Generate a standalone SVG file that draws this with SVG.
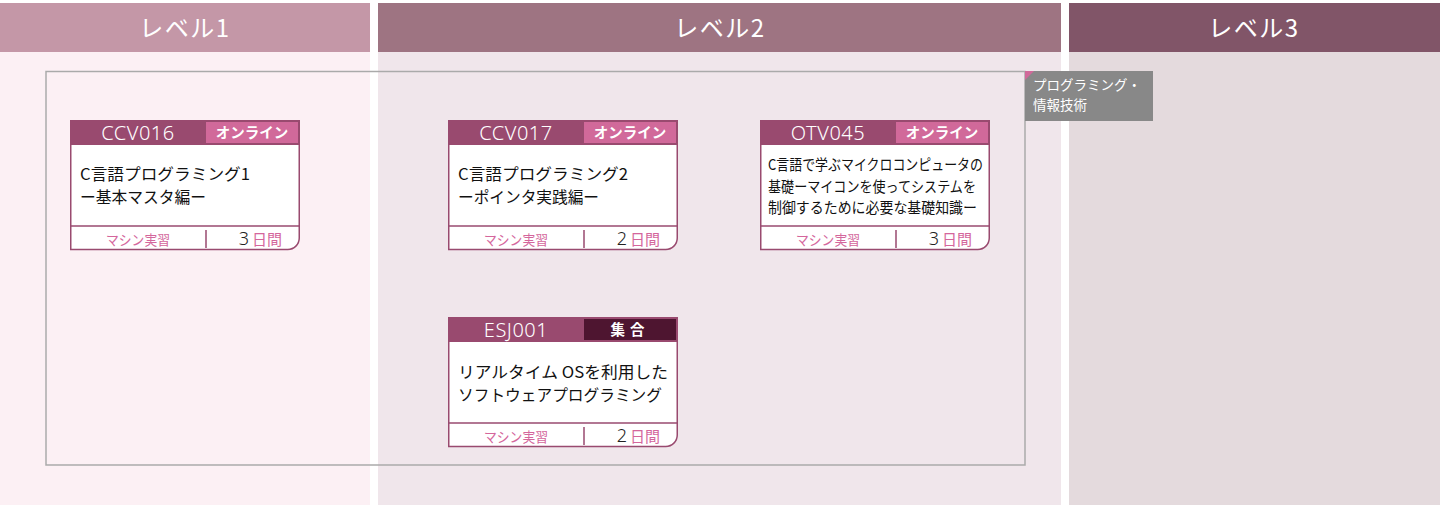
<svg xmlns="http://www.w3.org/2000/svg" width="1440" height="505" viewBox="0 0 1440 505">
<style>
  text { font-family: "Noto Sans CJK JP", "Noto Sans", sans-serif; }
  .lvl { fill: #ffffff; font-size: 24px; text-anchor: middle; letter-spacing: 1.5px; }
  .code { fill: #ffffff; font-size: 20px; font-weight: 300; text-anchor: middle; font-family: "Noto Sans", "Noto Sans CJK JP", sans-serif; letter-spacing: 0.5px; }
  .tag { fill: #ffffff; font-size: 14.5px; font-weight: bold; text-anchor: middle; }
  .title { fill: #111111; font-size: 16px; }
  .title3 { fill: #111111; font-size: 15px; }
  .ft { fill: #d4669c; font-size: 14px; text-anchor: middle; }
  .days { font-size: 15px; text-anchor: end; fill: #d4669c; }
  .num { fill: #222222; font-size: 18px; font-family: "Noto Sans", sans-serif; font-weight: 300; }
  .outline { fill: #ffffff; stroke: #994a6f; stroke-width: 1.5; }
  .hdr { fill: #994a6f; }
  .online { fill: #d1699a; }
  .sep { stroke: #994a6f; stroke-width: 1.5; fill: none; }
</style>
<defs>
  <g id="cardBase">
    <path class="outline" d="M0.75,0.75 H229.25 V118 A11.5,11.5 0 0 1 217.75,129.5 H0.75 Z"/>
    <rect class="hdr" x="0" y="0" width="230" height="25"/>
    <line class="sep" x1="0" y1="106" x2="230" y2="106"/>
    <line class="sep" x1="136" y1="110" x2="136" y2="128"/>
    <text class="ft" x="68" y="125" textLength="64" lengthAdjust="spacingAndGlyphs">マシン実習</text>
  </g>
</defs>

<rect x="0" y="0" width="1440" height="505" fill="#ffffff"/>
<!-- columns -->
<g id="col1">
  <rect x="0" y="52" width="370" height="453" fill="#fcf0f4"/>
  <rect x="0" y="3" width="370" height="49" fill="#c497a7"/>
  <text class="lvl" x="185" y="37">レベル1</text>
</g>
<g id="col2">
  <rect x="378" y="52" width="683" height="453" fill="#f0e6eb"/>
  <rect x="378" y="3" width="683" height="49" fill="#9e7482"/>
  <text class="lvl" x="720" y="37">レベル2</text>
</g>
<g id="col3">
  <rect x="1069" y="52" width="371" height="453" fill="#e4dadd"/>
  <rect x="1069" y="3" width="371" height="49" fill="#815568"/>
  <text class="lvl" x="1254" y="37">レベル3</text>
</g>

<!-- group frame -->
<g id="group-programming">
  <rect x="46" y="71.5" width="979" height="393.5" fill="none" stroke="#aaaaaa" stroke-width="1.5"/>
  <rect x="1025" y="71" width="128" height="50" fill="#888888"/>
  <polygon points="1025,71 1034,71 1025,80" fill="#d1699a"/>
  <text x="1033" y="90" fill="#ffffff" font-size="13.5">プログラミング・</text>
  <text x="1033" y="110" fill="#ffffff" font-size="13.5">情報技術</text>
</g>

<!-- cards -->
<g id="CCV016" transform="translate(70,120)">
  <use href="#cardBase"/>
  <rect class="online" x="136" y="2" width="92" height="21"/>
  <text class="code" x="68" y="20">CCV016</text>
  <text class="tag" x="182" y="18">オンライン</text>
  <text class="title" x="10" y="60" textLength="170" lengthAdjust="spacingAndGlyphs">C言語プログラミング1</text>
  <text class="title" x="10" y="83" textLength="126" lengthAdjust="spacingAndGlyphs">ー基本マスタ編ー</text>
  <text class="days" x="212" y="125"><tspan class="num">3</tspan><tspan dx="3">日間</tspan></text>
</g>

<g id="CCV017" transform="translate(448,120)">
  <use href="#cardBase"/>
  <rect class="online" x="136" y="2" width="92" height="21"/>
  <text class="code" x="68" y="20">CCV017</text>
  <text class="tag" x="182" y="18">オンライン</text>
  <text class="title" x="10" y="60" textLength="170" lengthAdjust="spacingAndGlyphs">C言語プログラミング2</text>
  <text class="title" x="10" y="83" textLength="141" lengthAdjust="spacingAndGlyphs">ーポインタ実践編ー</text>
  <text class="days" x="212" y="125"><tspan class="num">2</tspan><tspan dx="3">日間</tspan></text>
</g>

<g id="OTV045" transform="translate(760,120)">
  <use href="#cardBase"/>
  <rect class="online" x="136" y="2" width="92" height="21"/>
  <text class="code" x="68" y="20">OTV045</text>
  <text class="tag" x="182" y="18">オンライン</text>
  <text class="title3" x="8" y="50" textLength="215" lengthAdjust="spacingAndGlyphs">C言語で学ぶマイクロコンピュータの</text>
  <text class="title3" x="8" y="71.5" textLength="208" lengthAdjust="spacingAndGlyphs">基礎ーマイコンを使ってシステムを</text>
  <text class="title3" x="8" y="93" textLength="209" lengthAdjust="spacingAndGlyphs">制御するために必要な基礎知識ー</text>
  <text class="days" x="212" y="125"><tspan class="num">3</tspan><tspan dx="3">日間</tspan></text>
</g>

<g id="ESJ001" transform="translate(448,317)">
  <use href="#cardBase"/>
  <rect x="136" y="2" width="92" height="21" fill="#4e1530"/>
  <text class="code" x="68" y="20">ESJ001</text>
  <text class="tag" x="182" y="18" letter-spacing="5">集合</text>
  <text class="title" x="10" y="61" textLength="210" lengthAdjust="spacingAndGlyphs">リアルタイム OSを利用した</text>
  <text class="title" x="10" y="84" textLength="204" lengthAdjust="spacingAndGlyphs">ソフトウェアプログラミング</text>
  <text class="days" x="212" y="125"><tspan class="num">2</tspan><tspan dx="3">日間</tspan></text>
</g>

<g id="connectors"></g>
</svg>
